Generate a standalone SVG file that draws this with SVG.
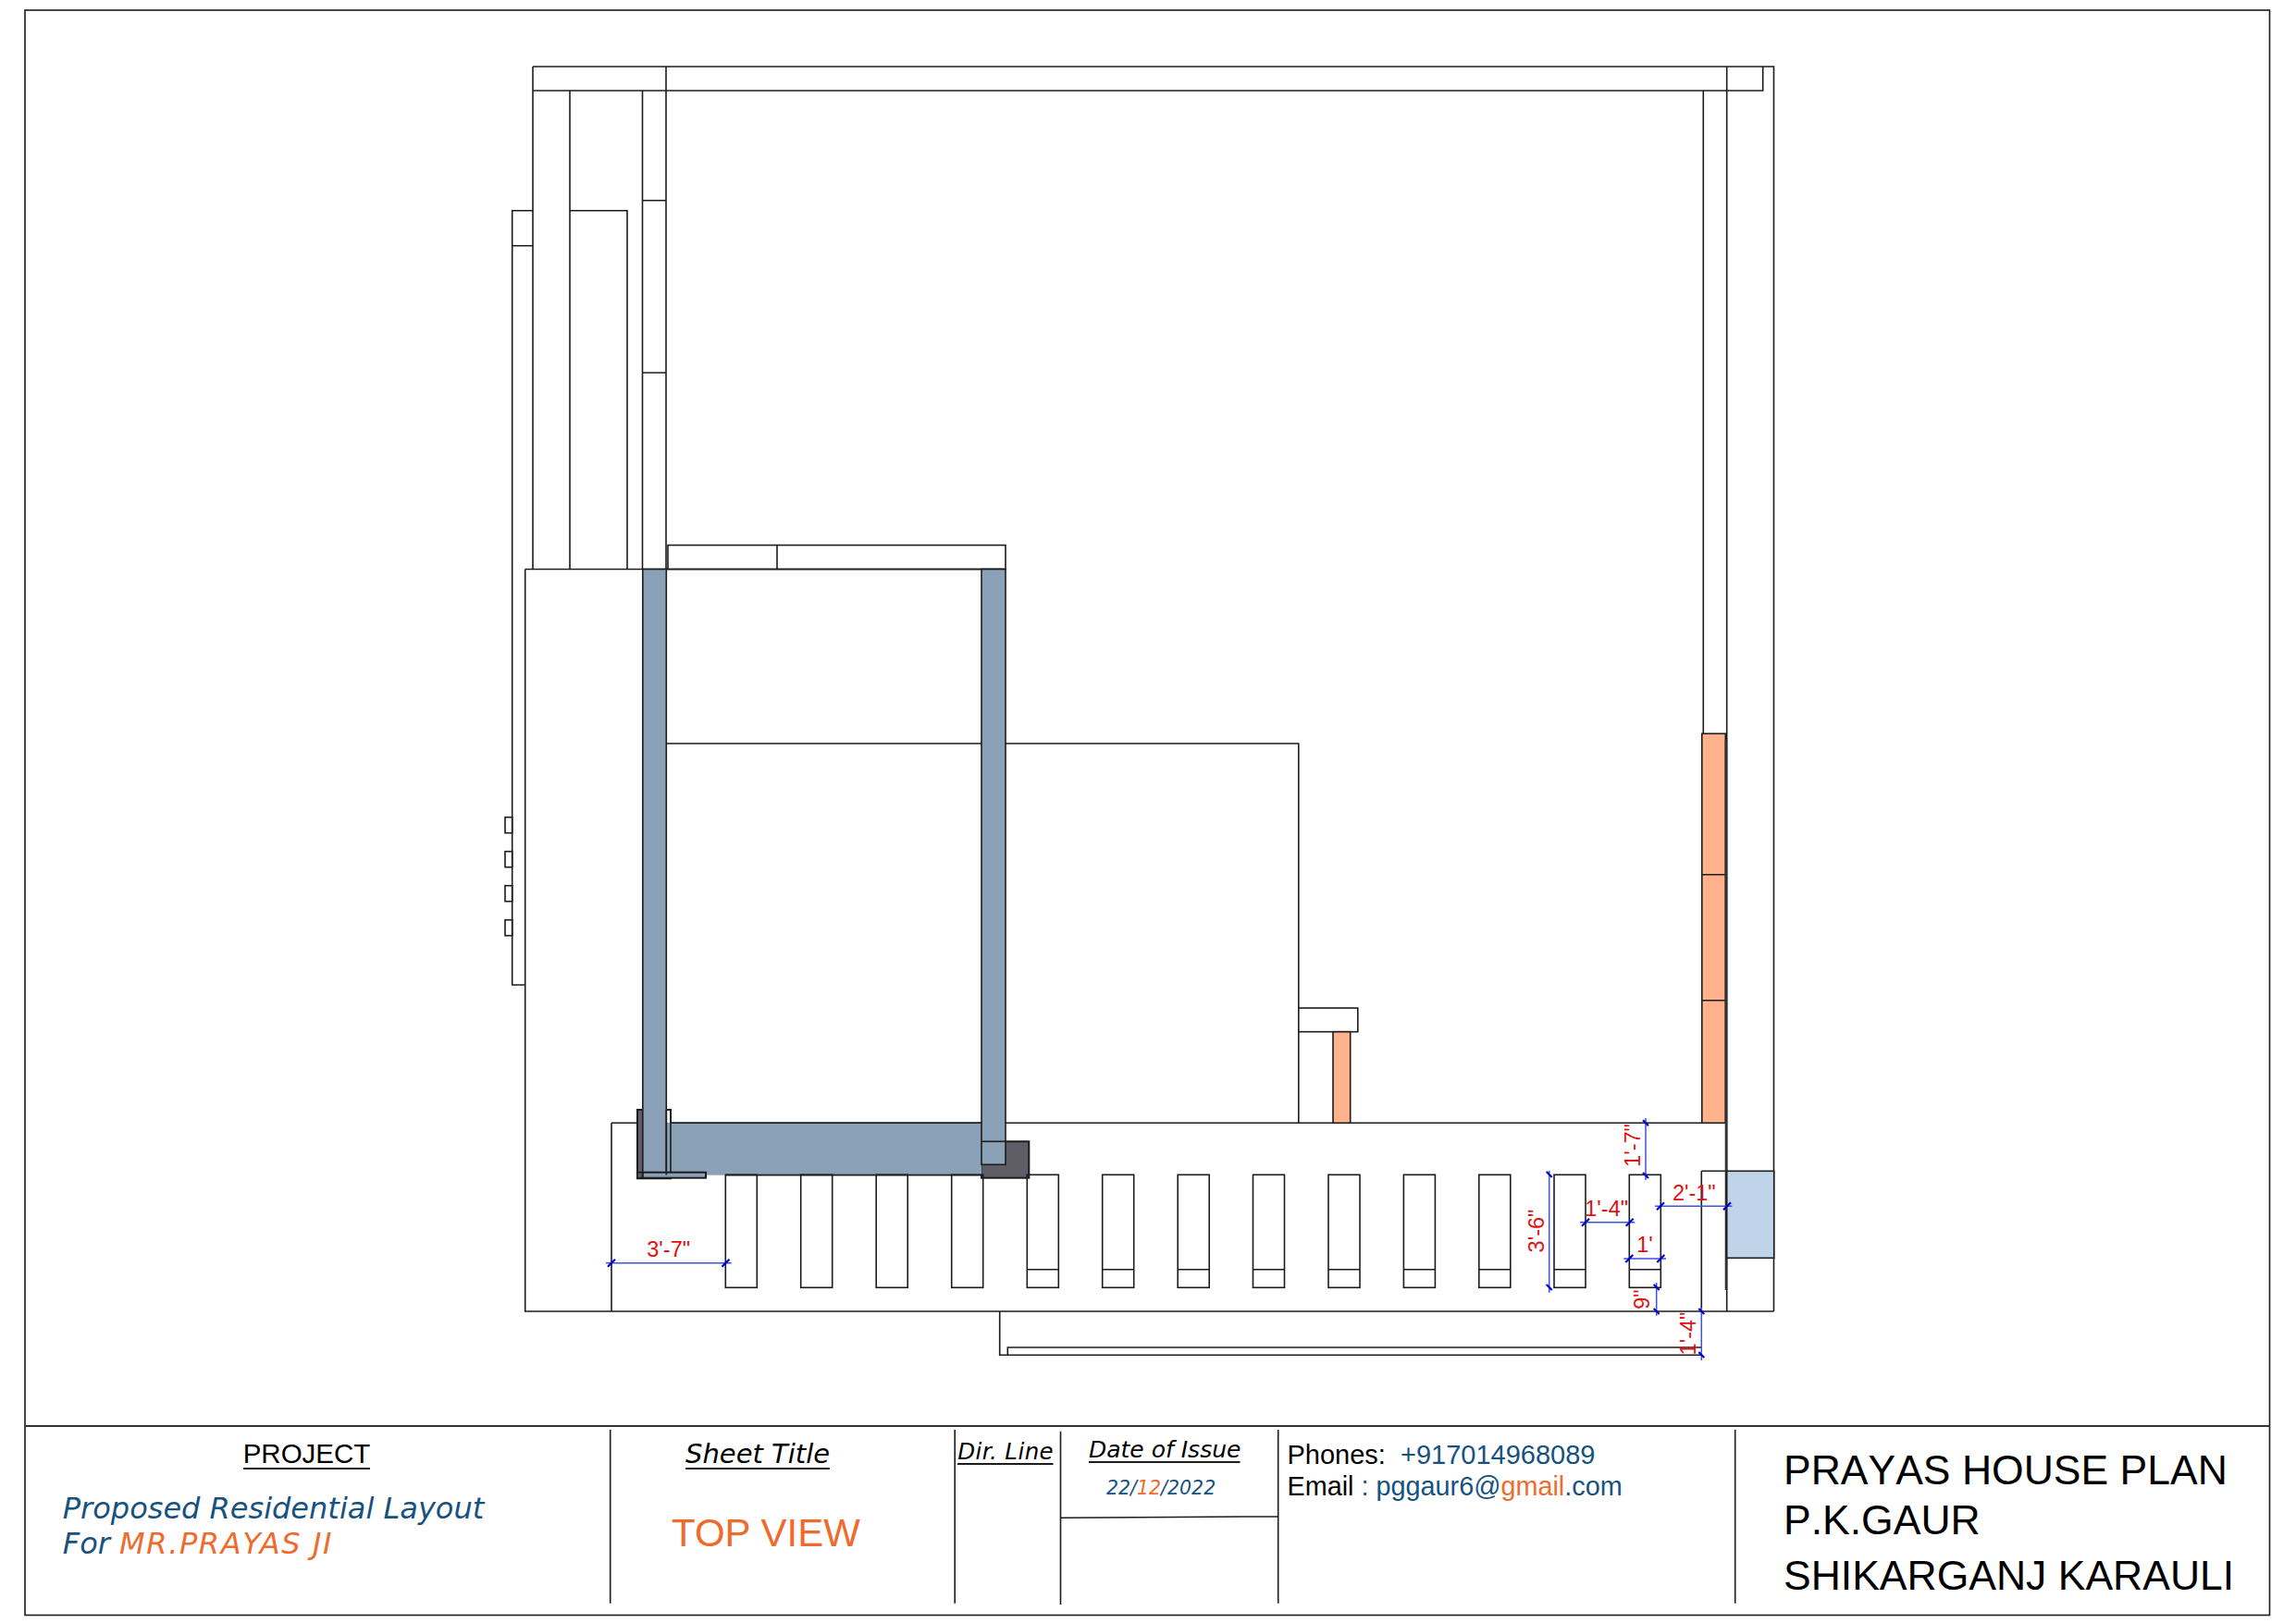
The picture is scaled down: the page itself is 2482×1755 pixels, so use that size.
<svg xmlns="http://www.w3.org/2000/svg" width="2482" height="1755" viewBox="0 0 2482 1755">
<defs>
<style>
.l{fill:none;stroke:#1c1c1c;stroke-width:1.6}
.w{fill:#fff;stroke:#1c1c1c;stroke-width:1.6}
.b{fill:#8ba1b7;stroke:#1c1c1c;stroke-width:1.6}
.d{fill:#5f5e66;stroke:#1c1c1c;stroke-width:2}
.o{fill:#ffb28c;stroke:#1c1c1c;stroke-width:1.6}
.dim{stroke:#3f52d8;stroke-width:1.5;fill:none}
.tk{stroke:#0000d8;stroke-width:2.2;fill:none}
.dt{font-family:"Liberation Sans",Arial,sans-serif;font-size:23.5px;fill:#e01010;text-anchor:middle}
.a{font-family:"Liberation Sans",Arial,sans-serif}
.v{font-family:"DejaVu Sans",Verdana,sans-serif;font-style:italic}
.nb{fill:#17527f}
.or{fill:#ef6b2d}
.k{fill:#000}
.nk{font-kerning:none}
</style>
<g id="bar"><rect class="l" x="0" y="0" width="34" height="122"/></g>
<g id="barc"><rect class="l" x="0" y="0" width="34" height="122"/><path class="l" d="M0 102.500H34"/></g>
</defs>
<rect width="2482" height="1755" fill="#fff"/>
<rect id="frame" class="l" x="27" y="11" width="2426.500" height="1735.500"/>

<g id="plan" transform="translate(0 1)">
<g id="upper-structure">
<path class="l" d="M576 71H1917.500V1417M576 71V97H1905.700V71M720 71V614.500M1866.700 71V1417M576 97V614.500M616 97V614.500M694.500 97V614.500M694.500 215.700H720M694.500 402H720M1841.300 97V792"/>
<path class="l" d="M616 226.800H678V614.500M576 226.800H553.700V1064H567.700M553.700 264.700H576"/>
<rect class="l" x="546" y="882.700" width="7.700" height="17"/>
<rect class="l" x="546" y="919.700" width="7.700" height="17"/>
<rect class="l" x="546" y="956.700" width="7.700" height="17"/>
<rect class="l" x="546" y="993.700" width="7.700" height="17"/>
<rect class="l" x="722" y="588.500" width="365" height="26"/>
<path class="l" d="M840 588.500V614.500"/>
</g>

<g id="main-slab">
<path class="l" d="M567.700 614.500H1087M567.700 614.500V1417H1917.500M720 803H1403.800V1213M661 1213.300V1417M661 1213.300H1866M1839.300 1265.300H1866M1839.300 1265.300V1417"/>
<path class="l" d="M1080.700 1417V1464.300H1839.300M1089.300 1464.300V1456H1839.300"/>
</g>

<g id="stub">
<rect class="w" x="1403.800" y="1089" width="64" height="25.700"/>
<rect class="o" x="1441" y="1114.700" width="18.700" height="98.600"/>
</g>

<g id="orange-wall">
<rect class="o" x="1839.800" y="792.300" width="25.500" height="421"/>
<path class="l" d="M1839.800 944.700H1865.300M1839.800 1080.700H1865.300"/>
<path d="M1866 800V1394" stroke="#333" stroke-width="2.600" fill="none"/>
<rect x="1866.700" y="1265.300" width="51" height="94" fill="#bfd4e8" stroke="#1c1c1c" stroke-width="1.600"/>
</g>

<g id="dark-corners">
<rect class="d" x="689" y="1199" width="36" height="74.300"/>
<rect x="720.300" y="1200" width="4" height="13.300" fill="#fff"/>
<rect class="d" x="1061" y="1233.300" width="51.300" height="39.400"/>
</g>
<g id="blue-frame">
<rect x="720.300" y="1213.300" width="341" height="56.400" fill="#8ba1b7"/>
<path class="l" d="M725 1213.300H1061M785 1269.600H1061"/>
<rect class="b" x="694.800" y="614.500" width="25.500" height="654.500"/>
<rect class="b" x="1061" y="614.500" width="26" height="643.800"/>
<path class="l" d="M1061 1233.300H1087"/>
<rect class="d" x="689" y="1266.700" width="5.800" height="6" style="stroke-width:1.600"/>
<rect class="b" x="694.800" y="1266.700" width="68.200" height="6" style="stroke-width:2"/>
<path class="l" d="M720.300 1199V1269.600M725 1199V1266.700"/>
</g>

<g id="columns">
<use href="#bar" x="784.300" y="1269.300"/>
<use href="#bar" x="865.700" y="1269.300"/>
<use href="#bar" x="947.200" y="1269.300"/>
<use href="#bar" x="1028.700" y="1269.300"/>
<use href="#barc" x="1110.300" y="1269.300"/>
<use href="#barc" x="1191.700" y="1269.300"/>
<use href="#barc" x="1273.200" y="1269.300"/>
<use href="#barc" x="1354.500" y="1269.300"/>
<use href="#barc" x="1436" y="1269.300"/>
<use href="#barc" x="1517.400" y="1269.300"/>
<use href="#barc" x="1598.800" y="1269.300"/>
<use href="#barc" x="1680" y="1269.300"/>
<use href="#barc" x="1761.300" y="1269.300"/>
</g>

<g id="dimensions">
<path class="dim" d="M655 1364.700H790.700M1708 1320.700H1767.300M1789 1303.300H1872.300M1755.300 1360H1801M1779 1208V1275M1674.700 1265V1396.700M1790.700 1386V1421.700M1839.300 1412.700V1470"/>
<path class="tk" d="M657 1368.700L665 1360.700M780.500 1368.700L788.500 1360.700M1710 1324.700L1718 1316.700M1757.700 1324.700L1765.700 1316.700M1791 1307.300L1799 1299.300M1863 1307.300L1871 1299.300M1757.300 1364L1765.300 1356M1791.300 1364L1799.300 1356"/>
<path class="tk" d="M1776 1210.300L1782 1216.300M1776 1267L1782 1273M1671.700 1266L1677.700 1272M1671.700 1388L1677.700 1394M1787.700 1388L1793.700 1394M1787.700 1414L1793.700 1420M1836.300 1414L1842.300 1420M1836.300 1461L1842.300 1467"/>
<text class="dt" x="722.700" y="1358">3'-7"</text>
<text class="dt" x="1736.700" y="1314">1'-4"</text>
<text class="dt" x="1831.300" y="1297.300">2'-1"</text>
<text class="dt" x="1778" y="1353.300">1'</text>
<text class="dt" transform="translate(1772.700 1237.500) rotate(-90)">1'-7"</text>
<text class="dt" transform="translate(1669 1330) rotate(-90)">3'-6"</text>
<text class="dt" transform="translate(1783.300 1404) rotate(-90)">9"</text>
<text class="dt" transform="translate(1833.300 1441) rotate(-90)">1'-4"</text>
</g>
</g>

<g id="title-block" transform="translate(0 1)">
<path d="M27 1541H2453.500" stroke="#333" stroke-width="2" fill="none"/>
<path class="l" d="M659.700 1545V1732.700M1032.200 1545V1732.700M1146.500 1546.700V1734M1381.700 1545V1732.700M1875.700 1545V1732.700M1146.500 1640.300L1381.700 1638.700"/>
<path class="l" d="M263 1587H400M741 1587H897M1035 1582H1138.500M1177 1580H1340.500" style="stroke-width:2"/>
<text class="a k" x="331.500" y="1580.700" font-size="29.500" text-anchor="middle">PROJECT</text>
<text class="v k" x="741" y="1580.700" font-size="29">Sheet Title</text>
<text class="v nb" x="67.800" y="1640.700" font-size="32">Proposed Residential Layout</text>
<text class="v nb" x="67.800" y="1679.300" font-size="32">For <tspan class="or" letter-spacing="1.600">MR.PRAYAS JI</tspan></text>
<text class="a or" x="726" y="1670.700" font-size="42">TOP VIEW</text>
<text class="v k" x="1035.300" y="1577.300" font-size="24.500" letter-spacing="0.400">Dir. Line</text>
<text class="v k" x="1177" y="1575" font-size="25">Date of Issue</text>
<text class="v nb" x="1196" y="1615" font-size="20.500">22/<tspan class="or">12</tspan>/2022</text>
<text class="a k" x="1391.500" y="1581.700" font-size="29">Phones:  <tspan class="nb" x="1514">+917014968089</tspan></text>
<text class="a k" x="1391.500" y="1615.700" font-size="28.800">Email <tspan class="nb">: pggaur6@</tspan><tspan class="or">gmail</tspan><tspan class="nb">.com</tspan></text>
<text class="a k nk" x="1928" y="1603.700" font-size="44.500">PRAYAS HOUSE PLAN</text>
<text class="a k nk" x="1928" y="1658.300" font-size="44.500">P.K.GAUR</text>
<text class="a k" x="1928" y="1718.300" font-size="44.500">SHIKARGANJ KARAULI</text>
</g>
</svg>
